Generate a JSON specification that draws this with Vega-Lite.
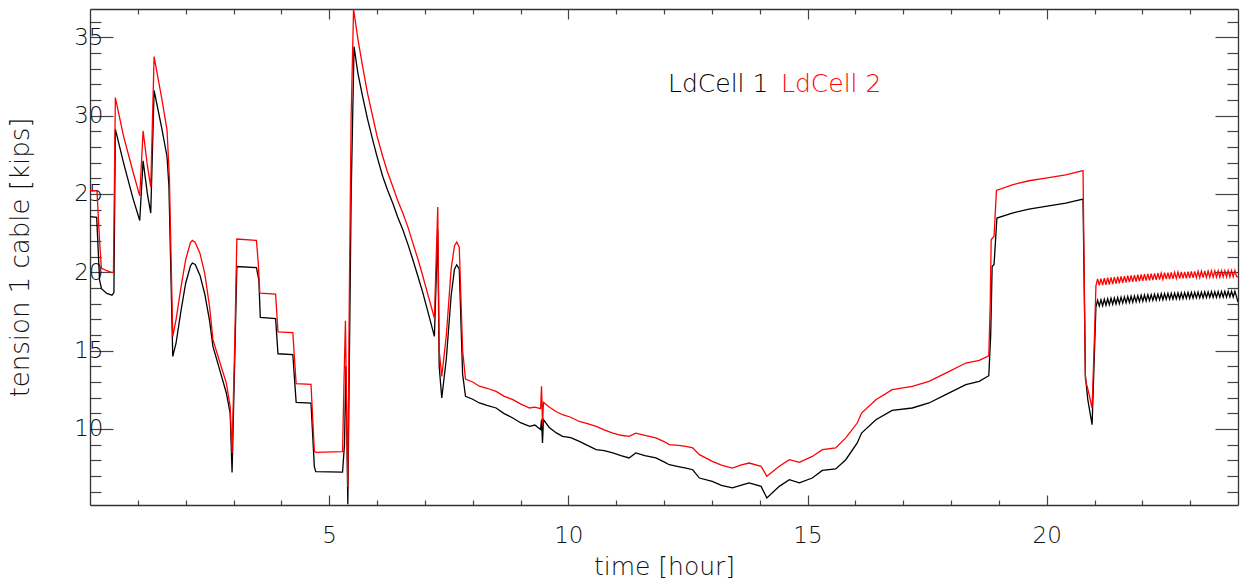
{
  "$schema": "https://vega.github.io/schema/vega-lite/v6.json",
  "width": 1148,
  "height": 496,
  "autosize": {"type": "none"},
  "padding": {"left": 90, "top": 9, "right": 3, "bottom": 80},
  "background": "white",
  "config": {
    "view": {"stroke": null},
    "axis": {
      "labelFont": "DejaVu Sans", "labelFontWeight": 200, "labelFontSize": 23, "labelColor": "#111",
      "titleFont": "DejaVu Sans", "titleFontWeight": 200, "titleFontSize": 25, "titleColor": "#111",
      "domainColor": "#333", "domainWidth": 1.3, "tickColor": "#444", "tickWidth": 1.2,
      "grid": false, "labelOverlap": false, "labelFlush": false
    },
    "legend": {"labelFont": "DejaVu Sans", "labelFontWeight": 200, "labelFontSize": 25}
  },
  "data": {"values": [
    {"t":0.0,"v":23.55,"c":"LdCell 1"},{"t":0.14,"v":23.5,"c":"LdCell 1"},{"t":0.2,"v":19.5,"c":"LdCell 1"},{"t":0.24,"v":18.95,"c":"LdCell 1"},{"t":0.35,"v":18.65,"c":"LdCell 1"},{"t":0.46,"v":18.54,"c":"LdCell 1"},{"t":0.5,"v":18.7,"c":"LdCell 1"},{"t":0.53,"v":29.13,"c":"LdCell 1"},{"t":0.7,"v":27.0,"c":"LdCell 1"},{"t":0.9,"v":24.7,"c":"LdCell 1"},{"t":1.04,"v":23.3,"c":"LdCell 1"},{"t":1.11,"v":27.11,"c":"LdCell 1"},{"t":1.2,"v":25.0,"c":"LdCell 1"},{"t":1.27,"v":23.78,"c":"LdCell 1"},{"t":1.34,"v":31.6,"c":"LdCell 1"},{"t":1.5,"v":29.2,"c":"LdCell 1"},{"t":1.61,"v":27.39,"c":"LdCell 1"},{"t":1.65,"v":25.5,"c":"LdCell 1"},{"t":1.73,"v":14.63,"c":"LdCell 1"},{"t":1.8,"v":15.5,"c":"LdCell 1"},{"t":1.9,"v":17.5,"c":"LdCell 1"},{"t":2.0,"v":19.3,"c":"LdCell 1"},{"t":2.1,"v":20.4,"c":"LdCell 1"},{"t":2.14,"v":20.59,"c":"LdCell 1"},{"t":2.2,"v":20.5,"c":"LdCell 1"},{"t":2.3,"v":19.8,"c":"LdCell 1"},{"t":2.4,"v":18.6,"c":"LdCell 1"},{"t":2.5,"v":16.9,"c":"LdCell 1"},{"t":2.57,"v":15.27,"c":"LdCell 1"},{"t":2.7,"v":13.9,"c":"LdCell 1"},{"t":2.85,"v":12.3,"c":"LdCell 1"},{"t":2.93,"v":11.02,"c":"LdCell 1"},{"t":2.97,"v":7.23,"c":"LdCell 1"},{"t":3.03,"v":15.0,"c":"LdCell 1"},{"t":3.07,"v":20.37,"c":"LdCell 1"},{"t":3.48,"v":20.3,"c":"LdCell 1"},{"t":3.53,"v":19.5,"c":"LdCell 1"},{"t":3.56,"v":17.12,"c":"LdCell 1"},{"t":3.88,"v":17.05,"c":"LdCell 1"},{"t":3.93,"v":14.8,"c":"LdCell 1"},{"t":4.24,"v":14.75,"c":"LdCell 1"},{"t":4.31,"v":11.7,"c":"LdCell 1"},{"t":4.62,"v":11.65,"c":"LdCell 1"},{"t":4.69,"v":7.6,"c":"LdCell 1"},{"t":4.72,"v":7.28,"c":"LdCell 1"},{"t":5.28,"v":7.25,"c":"LdCell 1"},{"t":5.32,"v":9.0,"c":"LdCell 1"},{"t":5.35,"v":14.0,"c":"LdCell 1"},{"t":5.39,"v":5.2,"c":"LdCell 1"},{"t":5.46,"v":25.0,"c":"LdCell 1"},{"t":5.52,"v":34.4,"c":"LdCell 1"},{"t":5.6,"v":32.7,"c":"LdCell 1"},{"t":5.7,"v":31.21,"c":"LdCell 1"},{"t":5.8,"v":29.8,"c":"LdCell 1"},{"t":5.91,"v":28.45,"c":"LdCell 1"},{"t":6.0,"v":27.4,"c":"LdCell 1"},{"t":6.12,"v":26.11,"c":"LdCell 1"},{"t":6.22,"v":25.25,"c":"LdCell 1"},{"t":6.33,"v":24.41,"c":"LdCell 1"},{"t":6.43,"v":23.55,"c":"LdCell 1"},{"t":6.54,"v":22.71,"c":"LdCell 1"},{"t":6.65,"v":21.75,"c":"LdCell 1"},{"t":6.75,"v":20.8,"c":"LdCell 1"},{"t":6.86,"v":19.7,"c":"LdCell 1"},{"t":6.96,"v":18.67,"c":"LdCell 1"},{"t":7.08,"v":17.3,"c":"LdCell 1"},{"t":7.2,"v":15.91,"c":"LdCell 1"},{"t":7.27,"v":22.71,"c":"LdCell 1"},{"t":7.3,"v":14.0,"c":"LdCell 1"},{"t":7.354,"v":11.98,"c":"LdCell 1"},{"t":7.45,"v":14.5,"c":"LdCell 1"},{"t":7.55,"v":18.5,"c":"LdCell 1"},{"t":7.62,"v":20.2,"c":"LdCell 1"},{"t":7.667,"v":20.48,"c":"LdCell 1"},{"t":7.72,"v":20.2,"c":"LdCell 1"},{"t":7.79,"v":13.5,"c":"LdCell 1"},{"t":7.85,"v":12.08,"c":"LdCell 1"},{"t":8.0,"v":11.9,"c":"LdCell 1"},{"t":8.14,"v":11.66,"c":"LdCell 1"},{"t":8.3,"v":11.5,"c":"LdCell 1"},{"t":8.49,"v":11.34,"c":"LdCell 1"},{"t":8.65,"v":11.0,"c":"LdCell 1"},{"t":8.84,"v":10.7,"c":"LdCell 1"},{"t":9.0,"v":10.4,"c":"LdCell 1"},{"t":9.19,"v":10.17,"c":"LdCell 1"},{"t":9.3,"v":10.25,"c":"LdCell 1"},{"t":9.42,"v":9.96,"c":"LdCell 1"},{"t":9.44,"v":10.6,"c":"LdCell 1"},{"t":9.46,"v":9.11,"c":"LdCell 1"},{"t":9.48,"v":10.6,"c":"LdCell 1"},{"t":9.6,"v":10.1,"c":"LdCell 1"},{"t":9.75,"v":9.75,"c":"LdCell 1"},{"t":9.88,"v":9.53,"c":"LdCell 1"},{"t":10.05,"v":9.45,"c":"LdCell 1"},{"t":10.23,"v":9.21,"c":"LdCell 1"},{"t":10.4,"v":8.95,"c":"LdCell 1"},{"t":10.58,"v":8.68,"c":"LdCell 1"},{"t":10.75,"v":8.62,"c":"LdCell 1"},{"t":10.93,"v":8.47,"c":"LdCell 1"},{"t":11.1,"v":8.3,"c":"LdCell 1"},{"t":11.27,"v":8.15,"c":"LdCell 1"},{"t":11.41,"v":8.47,"c":"LdCell 1"},{"t":11.6,"v":8.3,"c":"LdCell 1"},{"t":11.83,"v":8.15,"c":"LdCell 1"},{"t":12.0,"v":7.9,"c":"LdCell 1"},{"t":12.11,"v":7.72,"c":"LdCell 1"},{"t":12.3,"v":7.6,"c":"LdCell 1"},{"t":12.46,"v":7.51,"c":"LdCell 1"},{"t":12.6,"v":7.4,"c":"LdCell 1"},{"t":12.74,"v":6.87,"c":"LdCell 1"},{"t":13.01,"v":6.66,"c":"LdCell 1"},{"t":13.2,"v":6.4,"c":"LdCell 1"},{"t":13.43,"v":6.24,"c":"LdCell 1"},{"t":13.6,"v":6.4,"c":"LdCell 1"},{"t":13.78,"v":6.56,"c":"LdCell 1"},{"t":14.03,"v":6.34,"c":"LdCell 1"},{"t":14.15,"v":5.6,"c":"LdCell 1"},{"t":14.41,"v":6.34,"c":"LdCell 1"},{"t":14.62,"v":6.77,"c":"LdCell 1"},{"t":14.83,"v":6.56,"c":"LdCell 1"},{"t":15.1,"v":6.87,"c":"LdCell 1"},{"t":15.31,"v":7.36,"c":"LdCell 1"},{"t":15.59,"v":7.45,"c":"LdCell 1"},{"t":15.8,"v":8.04,"c":"LdCell 1"},{"t":16.04,"v":9.11,"c":"LdCell 1"},{"t":16.13,"v":9.74,"c":"LdCell 1"},{"t":16.43,"v":10.59,"c":"LdCell 1"},{"t":16.77,"v":11.19,"c":"LdCell 1"},{"t":17.19,"v":11.34,"c":"LdCell 1"},{"t":17.54,"v":11.66,"c":"LdCell 1"},{"t":17.89,"v":12.19,"c":"LdCell 1"},{"t":18.31,"v":12.83,"c":"LdCell 1"},{"t":18.59,"v":13.04,"c":"LdCell 1"},{"t":18.79,"v":13.4,"c":"LdCell 1"},{"t":18.83,"v":16.0,"c":"LdCell 1"},{"t":18.86,"v":20.37,"c":"LdCell 1"},{"t":18.9,"v":20.5,"c":"LdCell 1"},{"t":18.96,"v":23.46,"c":"LdCell 1"},{"t":19.28,"v":23.78,"c":"LdCell 1"},{"t":19.63,"v":24.03,"c":"LdCell 1"},{"t":19.98,"v":24.2,"c":"LdCell 1"},{"t":20.4,"v":24.41,"c":"LdCell 1"},{"t":20.76,"v":24.67,"c":"LdCell 1"},{"t":20.81,"v":13.4,"c":"LdCell 1"},{"t":20.86,"v":11.87,"c":"LdCell 1"},{"t":20.95,"v":10.27,"c":"LdCell 1"},{"t":21.0,"v":15.0,"c":"LdCell 1"},
    {"t":21.03,"v":17.8,"c":"LdCell 1"},{"t":21.065,"v":18.22,"c":"LdCell 1"},{"t":21.1,"v":17.84,"c":"LdCell 1"},{"t":21.135,"v":18.25,"c":"LdCell 1"},{"t":21.17,"v":17.87,"c":"LdCell 1"},{"t":21.205,"v":18.28,"c":"LdCell 1"},{"t":21.24,"v":17.9,"c":"LdCell 1"},{"t":21.275,"v":18.31,"c":"LdCell 1"},{"t":21.31,"v":17.93,"c":"LdCell 1"},{"t":21.345,"v":18.34,"c":"LdCell 1"},{"t":21.38,"v":17.96,"c":"LdCell 1"},{"t":21.415,"v":18.36,"c":"LdCell 1"},{"t":21.45,"v":17.98,"c":"LdCell 1"},{"t":21.485,"v":18.39,"c":"LdCell 1"},{"t":21.52,"v":18.0,"c":"LdCell 1"},{"t":21.555,"v":18.41,"c":"LdCell 1"},{"t":21.59,"v":18.03,"c":"LdCell 1"},{"t":21.625,"v":18.43,"c":"LdCell 1"},{"t":21.66,"v":18.05,"c":"LdCell 1"},{"t":21.695,"v":18.45,"c":"LdCell 1"},{"t":21.73,"v":18.07,"c":"LdCell 1"},{"t":21.765,"v":18.47,"c":"LdCell 1"},{"t":21.8,"v":18.09,"c":"LdCell 1"},{"t":21.835,"v":18.49,"c":"LdCell 1"},{"t":21.87,"v":18.11,"c":"LdCell 1"},{"t":21.905,"v":18.51,"c":"LdCell 1"},{"t":21.94,"v":18.13,"c":"LdCell 1"},{"t":21.975,"v":18.53,"c":"LdCell 1"},{"t":22.01,"v":18.15,"c":"LdCell 1"},{"t":22.045,"v":18.55,"c":"LdCell 1"},{"t":22.08,"v":18.17,"c":"LdCell 1"},{"t":22.115,"v":18.57,"c":"LdCell 1"},{"t":22.15,"v":18.19,"c":"LdCell 1"},{"t":22.185,"v":18.58,"c":"LdCell 1"},{"t":22.22,"v":18.21,"c":"LdCell 1"},{"t":22.255,"v":18.6,"c":"LdCell 1"},{"t":22.29,"v":18.22,"c":"LdCell 1"},{"t":22.325,"v":18.61,"c":"LdCell 1"},{"t":22.36,"v":18.24,"c":"LdCell 1"},{"t":22.395,"v":18.63,"c":"LdCell 1"},{"t":22.43,"v":18.25,"c":"LdCell 1"},{"t":22.465,"v":18.64,"c":"LdCell 1"},{"t":22.5,"v":18.27,"c":"LdCell 1"},{"t":22.535,"v":18.65,"c":"LdCell 1"},{"t":22.57,"v":18.28,"c":"LdCell 1"},{"t":22.605,"v":18.66,"c":"LdCell 1"},{"t":22.64,"v":18.29,"c":"LdCell 1"},{"t":22.675,"v":18.67,"c":"LdCell 1"},{"t":22.71,"v":18.3,"c":"LdCell 1"},{"t":22.745,"v":18.68,"c":"LdCell 1"},{"t":22.78,"v":18.31,"c":"LdCell 1"},{"t":22.815,"v":18.69,"c":"LdCell 1"},{"t":22.85,"v":18.32,"c":"LdCell 1"},{"t":22.885,"v":18.7,"c":"LdCell 1"},{"t":22.92,"v":18.33,"c":"LdCell 1"},{"t":22.955,"v":18.71,"c":"LdCell 1"},{"t":22.99,"v":18.34,"c":"LdCell 1"},{"t":23.025,"v":18.72,"c":"LdCell 1"},{"t":23.06,"v":18.35,"c":"LdCell 1"},{"t":23.095,"v":18.72,"c":"LdCell 1"},{"t":23.13,"v":18.36,"c":"LdCell 1"},{"t":23.165,"v":18.73,"c":"LdCell 1"},{"t":23.2,"v":18.37,"c":"LdCell 1"},{"t":23.235,"v":18.74,"c":"LdCell 1"},{"t":23.27,"v":18.37,"c":"LdCell 1"},{"t":23.305,"v":18.75,"c":"LdCell 1"},{"t":23.34,"v":18.38,"c":"LdCell 1"},{"t":23.375,"v":18.75,"c":"LdCell 1"},{"t":23.41,"v":18.39,"c":"LdCell 1"},{"t":23.445,"v":18.76,"c":"LdCell 1"},{"t":23.48,"v":18.39,"c":"LdCell 1"},{"t":23.515,"v":18.76,"c":"LdCell 1"},{"t":23.55,"v":18.4,"c":"LdCell 1"},{"t":23.585,"v":18.77,"c":"LdCell 1"},{"t":23.62,"v":18.4,"c":"LdCell 1"},{"t":23.655,"v":18.77,"c":"LdCell 1"},{"t":23.69,"v":18.41,"c":"LdCell 1"},{"t":23.725,"v":18.78,"c":"LdCell 1"},{"t":23.76,"v":18.41,"c":"LdCell 1"},{"t":23.795,"v":18.78,"c":"LdCell 1"},{"t":23.83,"v":18.42,"c":"LdCell 1"},{"t":23.865,"v":18.79,"c":"LdCell 1"},{"t":23.9,"v":18.42,"c":"LdCell 1"},{"t":23.935,"v":18.79,"c":"LdCell 1"},{"t":23.97,"v":18.43,"c":"LdCell 1"},{"t":24.0,"v":18.1,"c":"LdCell 1"},
    {"t":0.0,"v":25.22,"c":"LdCell 2"},{"t":0.146,"v":25.2,"c":"LdCell 2"},{"t":0.2,"v":22.0,"c":"LdCell 2"},{"t":0.238,"v":20.27,"c":"LdCell 2"},{"t":0.35,"v":20.1,"c":"LdCell 2"},{"t":0.447,"v":19.99,"c":"LdCell 2"},{"t":0.49,"v":20.0,"c":"LdCell 2"},{"t":0.53,"v":31.15,"c":"LdCell 2"},{"t":0.7,"v":28.7,"c":"LdCell 2"},{"t":0.9,"v":26.4,"c":"LdCell 2"},{"t":1.04,"v":24.88,"c":"LdCell 2"},{"t":1.11,"v":29.02,"c":"LdCell 2"},{"t":1.2,"v":26.8,"c":"LdCell 2"},{"t":1.27,"v":25.43,"c":"LdCell 2"},{"t":1.34,"v":33.76,"c":"LdCell 2"},{"t":1.5,"v":31.1,"c":"LdCell 2"},{"t":1.61,"v":29.09,"c":"LdCell 2"},{"t":1.66,"v":26.0,"c":"LdCell 2"},{"t":1.73,"v":15.9,"c":"LdCell 2"},{"t":1.8,"v":17.0,"c":"LdCell 2"},{"t":1.9,"v":19.0,"c":"LdCell 2"},{"t":2.0,"v":20.8,"c":"LdCell 2"},{"t":2.1,"v":21.9,"c":"LdCell 2"},{"t":2.14,"v":22.03,"c":"LdCell 2"},{"t":2.2,"v":21.9,"c":"LdCell 2"},{"t":2.3,"v":21.2,"c":"LdCell 2"},{"t":2.4,"v":19.9,"c":"LdCell 2"},{"t":2.5,"v":17.8,"c":"LdCell 2"},{"t":2.57,"v":15.7,"c":"LdCell 2"},{"t":2.7,"v":14.4,"c":"LdCell 2"},{"t":2.85,"v":12.93,"c":"LdCell 2"},{"t":2.93,"v":11.44,"c":"LdCell 2"},{"t":2.97,"v":8.47,"c":"LdCell 2"},{"t":3.03,"v":16.0,"c":"LdCell 2"},{"t":3.07,"v":22.12,"c":"LdCell 2"},{"t":3.48,"v":22.03,"c":"LdCell 2"},{"t":3.52,"v":20.5,"c":"LdCell 2"},{"t":3.55,"v":18.67,"c":"LdCell 2"},{"t":3.88,"v":18.6,"c":"LdCell 2"},{"t":3.93,"v":16.19,"c":"LdCell 2"},{"t":4.24,"v":16.15,"c":"LdCell 2"},{"t":4.31,"v":12.89,"c":"LdCell 2"},{"t":4.62,"v":12.85,"c":"LdCell 2"},{"t":4.69,"v":8.6,"c":"LdCell 2"},{"t":4.72,"v":8.51,"c":"LdCell 2"},{"t":5.28,"v":8.55,"c":"LdCell 2"},{"t":5.31,"v":13.0,"c":"LdCell 2"},{"t":5.34,"v":16.9,"c":"LdCell 2"},{"t":5.37,"v":10.0,"c":"LdCell 2"},{"t":5.39,"v":6.3,"c":"LdCell 2"},{"t":5.42,"v":18.0,"c":"LdCell 2"},{"t":5.46,"v":30.0,"c":"LdCell 2"},{"t":5.51,"v":36.79,"c":"LdCell 2"},{"t":5.6,"v":34.9,"c":"LdCell 2"},{"t":5.7,"v":33.12,"c":"LdCell 2"},{"t":5.8,"v":31.45,"c":"LdCell 2"},{"t":5.91,"v":29.94,"c":"LdCell 2"},{"t":6.0,"v":28.7,"c":"LdCell 2"},{"t":6.12,"v":27.39,"c":"LdCell 2"},{"t":6.22,"v":26.4,"c":"LdCell 2"},{"t":6.33,"v":25.47,"c":"LdCell 2"},{"t":6.43,"v":24.6,"c":"LdCell 2"},{"t":6.54,"v":23.78,"c":"LdCell 2"},{"t":6.65,"v":22.85,"c":"LdCell 2"},{"t":6.75,"v":21.86,"c":"LdCell 2"},{"t":6.86,"v":20.8,"c":"LdCell 2"},{"t":6.96,"v":19.73,"c":"LdCell 2"},{"t":7.08,"v":18.4,"c":"LdCell 2"},{"t":7.2,"v":17.08,"c":"LdCell 2"},{"t":7.27,"v":24.16,"c":"LdCell 2"},{"t":7.3,"v":15.0,"c":"LdCell 2"},{"t":7.354,"v":13.36,"c":"LdCell 2"},{"t":7.45,"v":16.0,"c":"LdCell 2"},{"t":7.55,"v":20.2,"c":"LdCell 2"},{"t":7.62,"v":21.7,"c":"LdCell 2"},{"t":7.667,"v":21.93,"c":"LdCell 2"},{"t":7.72,"v":21.6,"c":"LdCell 2"},{"t":7.79,"v":15.0,"c":"LdCell 2"},{"t":7.85,"v":13.19,"c":"LdCell 2"},{"t":8.0,"v":13.0,"c":"LdCell 2"},{"t":8.14,"v":12.73,"c":"LdCell 2"},{"t":8.3,"v":12.6,"c":"LdCell 2"},{"t":8.49,"v":12.4,"c":"LdCell 2"},{"t":8.65,"v":12.1,"c":"LdCell 2"},{"t":8.84,"v":11.87,"c":"LdCell 2"},{"t":9.0,"v":11.6,"c":"LdCell 2"},{"t":9.19,"v":11.34,"c":"LdCell 2"},{"t":9.3,"v":11.4,"c":"LdCell 2"},{"t":9.42,"v":11.3,"c":"LdCell 2"},{"t":9.44,"v":12.72,"c":"LdCell 2"},{"t":9.46,"v":10.27,"c":"LdCell 2"},{"t":9.48,"v":11.7,"c":"LdCell 2"},{"t":9.6,"v":11.4,"c":"LdCell 2"},{"t":9.75,"v":11.1,"c":"LdCell 2"},{"t":9.88,"v":10.91,"c":"LdCell 2"},{"t":10.05,"v":10.75,"c":"LdCell 2"},{"t":10.23,"v":10.48,"c":"LdCell 2"},{"t":10.4,"v":10.35,"c":"LdCell 2"},{"t":10.58,"v":10.17,"c":"LdCell 2"},{"t":10.75,"v":9.95,"c":"LdCell 2"},{"t":10.93,"v":9.74,"c":"LdCell 2"},{"t":11.1,"v":9.6,"c":"LdCell 2"},{"t":11.27,"v":9.53,"c":"LdCell 2"},{"t":11.41,"v":9.74,"c":"LdCell 2"},{"t":11.6,"v":9.6,"c":"LdCell 2"},{"t":11.83,"v":9.43,"c":"LdCell 2"},{"t":12.0,"v":9.2,"c":"LdCell 2"},{"t":12.11,"v":9.0,"c":"LdCell 2"},{"t":12.3,"v":8.95,"c":"LdCell 2"},{"t":12.46,"v":8.89,"c":"LdCell 2"},{"t":12.6,"v":8.8,"c":"LdCell 2"},{"t":12.74,"v":8.36,"c":"LdCell 2"},{"t":13.01,"v":7.93,"c":"LdCell 2"},{"t":13.2,"v":7.7,"c":"LdCell 2"},{"t":13.43,"v":7.51,"c":"LdCell 2"},{"t":13.6,"v":7.7,"c":"LdCell 2"},{"t":13.78,"v":7.83,"c":"LdCell 2"},{"t":14.03,"v":7.62,"c":"LdCell 2"},{"t":14.15,"v":6.98,"c":"LdCell 2"},{"t":14.41,"v":7.62,"c":"LdCell 2"},{"t":14.62,"v":8.04,"c":"LdCell 2"},{"t":14.83,"v":7.87,"c":"LdCell 2"},{"t":15.1,"v":8.25,"c":"LdCell 2"},{"t":15.31,"v":8.68,"c":"LdCell 2"},{"t":15.59,"v":8.79,"c":"LdCell 2"},{"t":15.8,"v":9.43,"c":"LdCell 2"},{"t":16.04,"v":10.38,"c":"LdCell 2"},{"t":16.13,"v":11.02,"c":"LdCell 2"},{"t":16.43,"v":11.87,"c":"LdCell 2"},{"t":16.77,"v":12.51,"c":"LdCell 2"},{"t":17.19,"v":12.72,"c":"LdCell 2"},{"t":17.54,"v":13.04,"c":"LdCell 2"},{"t":17.89,"v":13.57,"c":"LdCell 2"},{"t":18.31,"v":14.21,"c":"LdCell 2"},{"t":18.59,"v":14.38,"c":"LdCell 2"},{"t":18.79,"v":14.67,"c":"LdCell 2"},{"t":18.82,"v":18.0,"c":"LdCell 2"},{"t":18.84,"v":22.07,"c":"LdCell 2"},{"t":18.9,"v":22.3,"c":"LdCell 2"},{"t":18.95,"v":25.22,"c":"LdCell 2"},{"t":19.28,"v":25.58,"c":"LdCell 2"},{"t":19.63,"v":25.84,"c":"LdCell 2"},{"t":19.98,"v":26.01,"c":"LdCell 2"},{"t":20.4,"v":26.22,"c":"LdCell 2"},{"t":20.76,"v":26.49,"c":"LdCell 2"},{"t":20.81,"v":13.14,"c":"LdCell 2"},{"t":20.88,"v":12.3,"c":"LdCell 2"},{"t":20.95,"v":11.34,"c":"LdCell 2"},{"t":21.0,"v":16.0,"c":"LdCell 2"},
    {"t":21.03,"v":19.13,"c":"LdCell 2"},{"t":21.065,"v":19.58,"c":"LdCell 2"},{"t":21.1,"v":19.16,"c":"LdCell 2"},{"t":21.135,"v":19.6,"c":"LdCell 2"},{"t":21.17,"v":19.18,"c":"LdCell 2"},{"t":21.205,"v":19.62,"c":"LdCell 2"},{"t":21.24,"v":19.2,"c":"LdCell 2"},{"t":21.275,"v":19.65,"c":"LdCell 2"},{"t":21.31,"v":19.22,"c":"LdCell 2"},{"t":21.345,"v":19.67,"c":"LdCell 2"},{"t":21.38,"v":19.25,"c":"LdCell 2"},{"t":21.415,"v":19.69,"c":"LdCell 2"},{"t":21.45,"v":19.28,"c":"LdCell 2"},{"t":21.485,"v":19.72,"c":"LdCell 2"},{"t":21.52,"v":19.3,"c":"LdCell 2"},{"t":21.555,"v":19.74,"c":"LdCell 2"},{"t":21.59,"v":19.33,"c":"LdCell 2"},{"t":21.625,"v":19.76,"c":"LdCell 2"},{"t":21.66,"v":19.35,"c":"LdCell 2"},{"t":21.695,"v":19.78,"c":"LdCell 2"},{"t":21.73,"v":19.37,"c":"LdCell 2"},{"t":21.765,"v":19.8,"c":"LdCell 2"},{"t":21.8,"v":19.39,"c":"LdCell 2"},{"t":21.835,"v":19.82,"c":"LdCell 2"},{"t":21.87,"v":19.41,"c":"LdCell 2"},{"t":21.905,"v":19.84,"c":"LdCell 2"},{"t":21.94,"v":19.43,"c":"LdCell 2"},{"t":21.975,"v":19.86,"c":"LdCell 2"},{"t":22.01,"v":19.45,"c":"LdCell 2"},{"t":22.045,"v":19.88,"c":"LdCell 2"},{"t":22.08,"v":19.47,"c":"LdCell 2"},{"t":22.115,"v":19.9,"c":"LdCell 2"},{"t":22.15,"v":19.49,"c":"LdCell 2"},{"t":22.185,"v":19.91,"c":"LdCell 2"},{"t":22.22,"v":19.5,"c":"LdCell 2"},{"t":22.255,"v":19.93,"c":"LdCell 2"},{"t":22.29,"v":19.52,"c":"LdCell 2"},{"t":22.325,"v":19.94,"c":"LdCell 2"},{"t":22.36,"v":19.53,"c":"LdCell 2"},{"t":22.395,"v":19.95,"c":"LdCell 2"},{"t":22.43,"v":19.55,"c":"LdCell 2"},{"t":22.465,"v":19.97,"c":"LdCell 2"},{"t":22.5,"v":19.56,"c":"LdCell 2"},{"t":22.535,"v":19.98,"c":"LdCell 2"},{"t":22.57,"v":19.57,"c":"LdCell 2"},{"t":22.605,"v":19.99,"c":"LdCell 2"},{"t":22.64,"v":19.58,"c":"LdCell 2"},{"t":22.675,"v":20.0,"c":"LdCell 2"},{"t":22.71,"v":19.6,"c":"LdCell 2"},{"t":22.745,"v":20.01,"c":"LdCell 2"},{"t":22.78,"v":19.6,"c":"LdCell 2"},{"t":22.815,"v":20.02,"c":"LdCell 2"},{"t":22.85,"v":19.61,"c":"LdCell 2"},{"t":22.885,"v":20.03,"c":"LdCell 2"},{"t":22.92,"v":19.62,"c":"LdCell 2"},{"t":22.955,"v":20.04,"c":"LdCell 2"},{"t":22.99,"v":19.63,"c":"LdCell 2"},{"t":23.025,"v":20.05,"c":"LdCell 2"},{"t":23.06,"v":19.64,"c":"LdCell 2"},{"t":23.095,"v":20.06,"c":"LdCell 2"},{"t":23.13,"v":19.65,"c":"LdCell 2"},{"t":23.165,"v":20.06,"c":"LdCell 2"},{"t":23.2,"v":19.66,"c":"LdCell 2"},{"t":23.235,"v":20.07,"c":"LdCell 2"},{"t":23.27,"v":19.66,"c":"LdCell 2"},{"t":23.305,"v":20.08,"c":"LdCell 2"},{"t":23.34,"v":19.67,"c":"LdCell 2"},{"t":23.375,"v":20.08,"c":"LdCell 2"},{"t":23.41,"v":19.68,"c":"LdCell 2"},{"t":23.445,"v":20.09,"c":"LdCell 2"},{"t":23.48,"v":19.68,"c":"LdCell 2"},{"t":23.515,"v":20.09,"c":"LdCell 2"},{"t":23.55,"v":19.69,"c":"LdCell 2"},{"t":23.585,"v":20.1,"c":"LdCell 2"},{"t":23.62,"v":19.69,"c":"LdCell 2"},{"t":23.655,"v":20.1,"c":"LdCell 2"},{"t":23.69,"v":19.7,"c":"LdCell 2"},{"t":23.725,"v":20.1,"c":"LdCell 2"},{"t":23.76,"v":19.7,"c":"LdCell 2"},{"t":23.795,"v":20.11,"c":"LdCell 2"},{"t":23.83,"v":19.7,"c":"LdCell 2"},{"t":23.865,"v":20.11,"c":"LdCell 2"},{"t":23.9,"v":19.71,"c":"LdCell 2"},{"t":23.935,"v":20.11,"c":"LdCell 2"},{"t":23.97,"v":19.72,"c":"LdCell 2"},{"t":24.0,"v":19.7,"c":"LdCell 2"}
  ]},
  "layer": [
    {
      "mark": {"type": "line", "strokeWidth": 1.3, "clip": true},
      "encoding": {
        "x": {"field": "t", "type": "quantitative",
          "scale": {"domain": [0, 24], "nice": false, "zero": false},
          "axis": {"orient": "bottom", "title": "time [hour]",
            "values": [1,2,3,4,5,6,7,8,9,10,11,12,13,14,15,16,17,18,19,20,21,22,23],
            "labelExpr": "datum.value % 5 === 0 ? datum.label : ''",
            "tickSize": {"condition": {"test": "datum.value % 5 === 0", "value": -10}, "value": -5},
            "labelPadding": 29, "titleY": 69, "titleBaseline": "alphabetic"}},
        "y": {"field": "v", "type": "quantitative",
          "scale": {"domain": [5.15, 36.8], "nice": false, "zero": false},
          "axis": {"orient": "left", "title": "tension 1 cable [kips]",
            "values": [6,7,8,9,10,11,12,13,14,15,16,17,18,19,20,21,22,23,24,25,26,27,28,29,30,31,32,33,34,35,36],
            "labelExpr": "datum.value % 5 === 0 ? datum.label : ''",
            "tickSize": {"condition": {"test": "datum.value % 5 === 0", "value": -23}, "value": -11},
            "labelPadding": 10, "titlePadding": 40, "titleFontSize": 26}},
        "color": {"field": "c", "type": "nominal",
          "scale": {"domain": ["LdCell 1", "LdCell 2"], "range": ["#000000", "#ff0000"]},
          "legend": {"title": null, "orient": "none", "legendX": 553, "legendY": 62,
            "direction": "horizontal", "symbolSize": 0, "symbolStrokeWidth": 0, "symbolOpacity": 0,
            "labelOffset": 0, "columnPadding": -13, "gridAlign": "none",
            "encode": {"labels": {"update": {"fill": {"signal": "scale('color', datum.value)"}}}}}}
      }
    },
    {
      "mark": {"type": "line", "strokeOpacity": 0, "opacity": 0},
      "encoding": {
        "x": {"field": "t", "type": "quantitative",
          "axis": {"orient": "top", "title": null, "labels": false,
            "values": [1,2,3,4,5,6,7,8,9,10,11,12,13,14,15,16,17,18,19,20,21,22,23],
            "tickSize": {"condition": {"test": "datum.value % 5 === 0", "value": -10}, "value": -5}}},
        "y": {"field": "v", "type": "quantitative",
          "axis": {"orient": "right", "title": null, "labels": false,
            "values": [6,7,8,9,10,11,12,13,14,15,16,17,18,19,20,21,22,23,24,25,26,27,28,29,30,31,32,33,34,35,36],
            "tickSize": {"condition": {"test": "datum.value % 5 === 0", "value": -23}, "value": -11}}},
        "detail": {"field": "c", "type": "nominal"}
      }
    }
  ],
  "resolve": {"axis": {"x": "independent", "y": "independent"}}
}
